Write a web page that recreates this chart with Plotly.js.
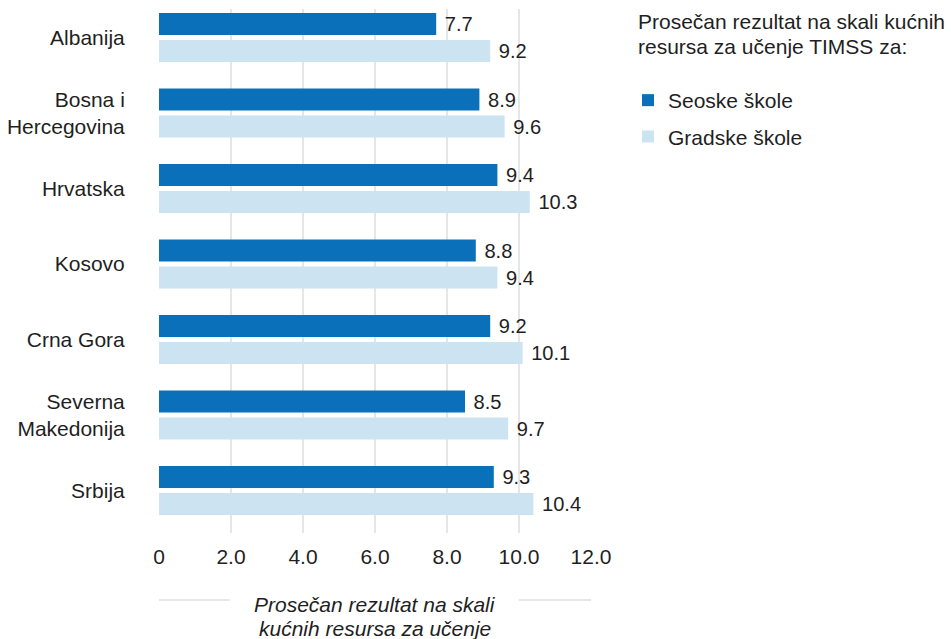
<!DOCTYPE html>
<html><head><meta charset="utf-8">
<script src="https://cdn.plot.ly/plotly-3.0.1.min.js"></script>
<style>html,body{margin:0;padding:0;background:#fff;}#chart{width:951px;height:639px;}</style>
</head><body><div id="chart"></div>
<script>
const countries = ["Albanija", "Bosna i<br>Hercegovina", "Hrvatska", "Kosovo", "Crna Gora", "Severna<br>Makedonija", "Srbija"];
const seoske = [7.7, 8.9, 9.4, 8.8, 9.2, 8.5, 9.3];
const gradske = [9.2, 9.6, 10.3, 9.4, 10.1, 9.7, 10.4];
const tickVals = [0, 2, 4, 6, 8, 10, 12];
const tickText = ["0", "2.0", "4.0", "6.0", "8.0", "10.0", "12.0"];
const seriesNames = ["Seoske škole", "Gradske škole"];
const legendTitleLines = ["Prosečan rezultat na skali kućnih", "resursa za učenje TIMSS za:"];
const axisTitleLines = ["Prosečan rezultat na skali", "kućnih resursa za učenje"];

const font = {family: "Liberation Sans, Arial, sans-serif", size: 21, color: "#1f1f1f"};
const ycats = countries.map((c, i) => i);

const traces = [
  {type: "bar", orientation: "h", name: seriesNames[0], y: ycats, x: seoske,
   marker: {color: "#0b70ba"}, texttemplate: " %{x:.1f}", textposition: "outside",
   textfont: font, cliponaxis: false, legendgroup: "a", hoverinfo: "x"},
  {type: "bar", orientation: "h", name: seriesNames[1], y: ycats, x: gradske,
   marker: {color: "#cce4f2"}, texttemplate: " %{x:.1f}", textposition: "outside",
   textfont: font, cliponaxis: false, legendgroup: "b", hoverinfo: "x"}
];

const pyTop = 9, pyH = 524;
const py = (pix) => (pyTop + pyH - pix) / pyH;

const layout = {
  width: 951, height: 639,
  margin: {l: 159, r: 360, t: 9, b: 106},
  paper_bgcolor: "#fff", plot_bgcolor: "#fff",
  font: font,
  barmode: "group", bargap: 0.285, bargroupgap: 0.185,
  xaxis: {range: [0, 12], tickvals: tickVals, ticktext: tickText, showgrid: true,
          gridcolor: "#e6e6e6", gridwidth: 1.5, zeroline: false, showline: false,
          ticks: "outside", ticklen: 5, tickcolor: "rgba(0,0,0,0)", tickfont: font, fixedrange: true},
  yaxis: {range: [6.563, -0.377], tickvals: ycats, ticktext: countries, showgrid: false,
          zeroline: false, showline: false, ticks: "outside", ticklen: 29,
          tickcolor: "rgba(0,0,0,0)", tickfont: font, fixedrange: true},
  showlegend: true,
  legend: {x: 1.0856, xanchor: "left", y: py(80), yanchor: "top", traceorder: "grouped",
           tracegroupgap: 6, font: font, bgcolor: "rgba(0,0,0,0)"},
  annotations: [
    {xref: "paper", yref: "paper", x: (637 - 159) / 432, y: py(21), xanchor: "left", yanchor: "middle",
     text: legendTitleLines[0], showarrow: false, font: font, align: "left", borderpad: 0},
    {xref: "paper", yref: "paper", x: (637 - 159) / 432, y: py(47), xanchor: "left", yanchor: "middle",
     text: legendTitleLines[1], showarrow: false, font: font, align: "left", borderpad: 0},
    {xref: "paper", yref: "paper", x: 0.5, y: py(604), xanchor: "center", yanchor: "middle",
     text: "<i>" + axisTitleLines[0] + "</i>", showarrow: false, font: font, borderpad: 0},
    {xref: "paper", yref: "paper", x: 0.5, y: py(628), xanchor: "center", yanchor: "middle",
     text: "<i>" + axisTitleLines[1] + "</i>", showarrow: false, font: font, borderpad: 0}
  ],
  shapes: [
    {type: "line", xref: "paper", yref: "paper", x0: 0, x1: 0.164, y0: py(600), y1: py(600),
     line: {color: "#e6e6e6", width: 2}},
    {type: "line", xref: "paper", yref: "paper", x0: 0.833, x1: 1, y0: py(600), y1: py(600),
     line: {color: "#e6e6e6", width: 2}}
  ]
};

Plotly.newPlot("chart", traces, layout, {displayModeBar: false, staticPlot: true});
</script></body></html>
